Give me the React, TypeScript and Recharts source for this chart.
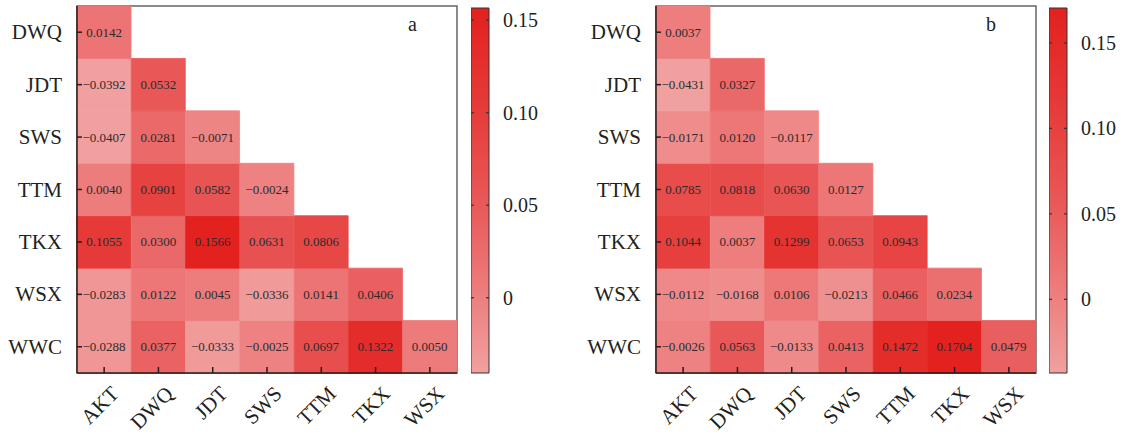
import { BarChart, Bar, XAxis, YAxis, Cell, LabelList, ReferenceArea } from 'recharts';

const cols = ['AKT', 'DWQ', 'JDT', 'SWS', 'TTM', 'TKX', 'WSX'];
const rows = ['DWQ', 'JDT', 'SWS', 'TTM', 'TKX', 'WSX', 'WWC'];
const cbTicks = [0, 0.05, 0.1, 0.15];

// panel a, lower triangle by row
const aDWQ = [0.0142];
const aJDT = [-0.0392, 0.0532];
const aSWS = [-0.0407, 0.0281, -0.0071];
const aTTM = [0.004, 0.0901, 0.0582, -0.0024];
const aTKX = [0.1055, 0.03, 0.1566, 0.0631, 0.0806];
const aWSX = [-0.0283, 0.0122, 0.0045, -0.0336, 0.0141, 0.0406];
const aWWC = [-0.0288, 0.0377, -0.0333, -0.0025, 0.0697, 0.1322, 0.005];

// panel b
const bDWQ = [0.0037];
const bJDT = [-0.0431, 0.0327];
const bSWS = [-0.0171, 0.012, -0.0117];
const bTTM = [0.0785, 0.0818, 0.063, 0.0127];
const bTKX = [0.1044, 0.0037, 0.1299, 0.0653, 0.0943];
const bWSX = [-0.0112, -0.0168, 0.0106, -0.0213, 0.0466, 0.0234];
const bWWC = [-0.0026, 0.0563, -0.0133, 0.0413, 0.1472, 0.1704, 0.0479];

const panelA = [aDWQ, aJDT, aSWS, aTTM, aTKX, aWSX, aWWC];
const panelB = [bDWQ, bJDT, bSWS, bTTM, bTKX, bWSX, bWWC];

const FONT = "'Liberation Serif', 'Times New Roman', serif";
const INK = '#231f20';

const stops: [number, number[]][] = [
  [0, [241, 160, 160]],
  [0.2, [238, 128, 128]],
  [0.45, [233, 90, 90]],
  [0.7, [230, 62, 60]],
  [1, [227, 33, 30]],
];

function colorAt(t: number) {
  t = Math.max(0, Math.min(1, t));
  for (let i = 1; i < stops.length; i++) {
    const [t1, c1] = stops[i];
    const [t0, c0] = stops[i - 1];
    if (t <= t1) {
      const f = (t - t0) / (t1 - t0);
      const c = c0.map((v, k) => Math.round(v + (c1[k] - v) * f));
      return `rgb(${c[0]},${c[1]},${c[2]})`;
    }
  }
  return 'rgb(227,33,30)';
}

function fmt(v: number) {
  const s = Math.abs(v).toFixed(4);
  return v < 0 ? '\u2212' + s : s;
}

function Heatmap({ values }: { values: number[][] }) {
  const all = values.flat();
  const min = Math.min(...all);
  const max = Math.max(...all);
  const data = cols.map((c, j) => {
    const d: any = { col: c };
    rows.forEach((r, i) => {
      if (j < values[i].length) d[r] = 1;
    });
    return d;
  });
  const yTicks = [0.5, 1.5, 2.5, 3.5, 4.5, 5.5, 6.5];

  return (
    <BarChart width={470} height={434} data={data} margin={{ top: 6, right: 13, left: 0, bottom: 0 }} barCategoryGap={0}>
      <XAxis
        dataKey="col"
        height={61}
        interval={0}
        tickSize={0}
        tickMargin={0}
        tickLine={false}
        axisLine={{ stroke: '#2a1a1a', strokeWidth: 1.5 }}
        tick={(p: any) => (
          <g>
            <line x1={p.x} x2={p.x} y1={p.y} y2={p.y - 6} stroke="#2a1a1a" strokeWidth={1.5} />
            <text
              x={p.x + 16}
              y={p.y + 22}
              textAnchor="end"
              transform={`rotate(-45 ${p.x + 16} ${p.y + 22})`}
              style={{ fontFamily: FONT, fontSize: 21, fill: INK }}
            >
              {p.payload.value}
            </text>
          </g>
        )}
      />
      <YAxis
        type="number"
        domain={[0, 7]}
        ticks={yTicks}
        width={77}
        tickSize={0}
        tickMargin={0}
        tickLine={false}
        axisLine={{ stroke: '#2a1a1a', strokeWidth: 1.5 }}
        tick={(p: any) => (
          <g>
            <line x1={p.x} x2={p.x + 5} y1={p.y} y2={p.y} stroke="#2a1a1a" strokeWidth={1.5} />
            <text x={p.x - 15} y={p.y + 7} textAnchor="end" style={{ fontFamily: FONT, fontSize: 21, fill: INK }}>
              {rows[6 - Math.floor(p.payload.value)]}
            </text>
          </g>
        )}
      />
      <ReferenceArea x1="AKT" x2="WSX" y1={0} y2={7} fill="none" stroke="#666" strokeWidth={1.5} />
      {rows
        .map((r, i) => ({ r, i }))
        .reverse()
        .map(({ r, i }) => (
          <Bar key={r} dataKey={r} stackId="s" isAnimationActive={false}>
            {data.map((_, j) => {
              const fill = j < values[i].length ? colorAt((values[i][j] - min) / (max - min)) : 'none';
              return <Cell key={j} fill={fill} stroke={fill} strokeWidth={0.8} />;
            })}
            <LabelList
              dataKey={r}
              content={(p: any) => {
                const j = p.index;
                if (j == null || j >= values[i].length) return null;
                return (
                  <text
                    x={p.x + p.width / 2}
                    y={p.y + p.height / 2 + 4.5}
                    textAnchor="middle"
                    style={{ fontFamily: FONT, fontSize: 13, fill: '#2b2b2b' }}
                  >
                    {fmt(values[i][j])}
                  </text>
                );
              }}
            />
          </Bar>
        ))}
    </BarChart>
  );
}

function ColorBar({ values, id }: { values: number[][]; id: string }) {
  const all = values.flat();
  const min = Math.min(...all);
  const max = Math.max(...all);
  const data = [{ name: 'c', range: [min, max] }];
  return (
    <BarChart width={76} height={434} data={data} margin={{ top: 8, right: 0, left: 0, bottom: 61 }} barCategoryGap={0}>
      <defs>
        <linearGradient id={id} x1="0" y1="0" x2="0" y2="1">
          {stops
            .slice()
            .reverse()
            .map(([t, c]) => (
              <stop key={t} offset={1 - t} stopColor={`rgb(${c[0]},${c[1]},${c[2]})`} />
            ))}
        </linearGradient>
      </defs>
      <XAxis dataKey="name" hide />
      <YAxis
        orientation="right"
        type="number"
        domain={[min, max]}
        ticks={cbTicks}
        width={58}
        axisLine={false}
        tickLine={false}
        tickSize={0}
        tickMargin={0}
        tick={(p: any) => (
          <g>
            <line x1={p.x - 18} x2={p.x - 15} y1={p.y} y2={p.y} stroke="#333" strokeWidth={1.2} />
            <line x1={p.x - 3} x2={p.x} y1={p.y} y2={p.y} stroke="#333" strokeWidth={1.2} />
            <text x={p.x + 14} y={p.y + 7} textAnchor="start" style={{ fontFamily: FONT, fontSize: 20, fill: INK }}>
              {p.payload.value === 0 ? '0' : p.payload.value.toFixed(2)}
            </text>
          </g>
        )}
      />
      <Bar dataKey="range" fill={`url(#${id})`} stroke="#333" strokeWidth={1} isAnimationActive={false} />
    </BarChart>
  );
}

const letterStyle = (left: number): React.CSSProperties => ({
  position: 'absolute',
  left,
  top: 14,
  fontFamily: FONT,
  fontSize: 20,
  lineHeight: '20px',
  color: INK,
});

export default function App() {
  return (
    <div style={{ position: 'absolute', left: 0, top: 0, width: 1125, height: 434, background: '#fff', overflow: 'hidden' }}>
      <div style={{ position: 'absolute', left: 0, top: 0 }}>
        <Heatmap values={panelA} />
      </div>
      <div style={{ position: 'absolute', left: 471, top: 0 }}>
        <ColorBar values={panelA} id="gradA" />
      </div>
      <div style={letterStyle(408)}>a</div>
      <div style={{ position: 'absolute', left: 579, top: 0 }}>
        <Heatmap values={panelB} />
      </div>
      <div style={{ position: 'absolute', left: 1049, top: 0 }}>
        <ColorBar values={panelB} id="gradB" />
      </div>
      <div style={letterStyle(986)}>b</div>
    </div>
  );
}
